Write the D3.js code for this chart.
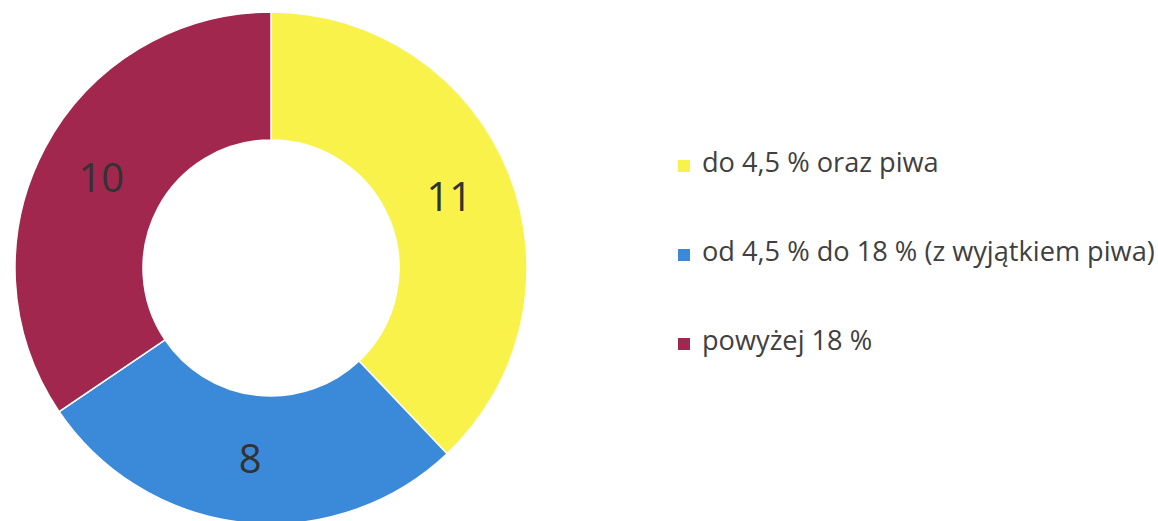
<!DOCTYPE html>
<html><head><meta charset="utf-8">
<script src="https://cdn.jsdelivr.net/npm/d3@7"></script>
<style>body{margin:0;background:#fff}svg{display:block}</style>
</head><body>
<svg id="c" width="1158" height="521"></svg>
<script>
const categories = ["do 4,5 % oraz piwa", "od 4,5 % do 18 % (z wyjątkiem piwa)", "powyżej 18 %"];
const values = [11, 8, 10];
const colors = ["#F9F24A", "#3B8ADA", "#A1274F"];

const svg = d3.select("#c");
const cx = 271, cy = 268, R = 256, r = 128;
const g = svg.append("g").attr("transform", `translate(${cx},${cy})`);
const pie = d3.pie().sort(null).value(d => d)(values);
const arc = d3.arc().innerRadius(r).outerRadius(R);
g.selectAll("path").data(pie).join("path")
  .attr("d", arc).attr("fill", (d,i) => colors[i])
  .attr("stroke", "#fff").attr("stroke-width", 1.5);
g.selectAll("text").data(pie).join("text")
  .attr("transform", d => `translate(${arc.centroid(d)})`)
  .attr("text-anchor", "middle").attr("dy", "0.36em")
  .attr("font-family", "Open Sans, sans-serif").attr("font-size", 40)
  .attr("fill", "#333").text(d => d.data);

const y = d3.scalePoint().domain(categories).range([172, 350]);
const lg = svg.append("g");
const items = lg.selectAll("g").data(categories).join("g")
  .attr("transform", d => `translate(0,${y(d)})`);
items.append("rect").attr("x", 678).attr("y", -12).attr("width", 12).attr("height", 12)
  .attr("fill", (d,i) => colors[i]);
const texts = items.append("text").attr("x", 702).attr("y", 0)
  .attr("font-family", "Open Sans, sans-serif").attr("font-size", 24)
  .attr("fill", "#404040").text(d => d);
// fit font size so the widest label matches the reference width
const w = texts.nodes()[1].getComputedTextLength();
const fs = 24 * 453 / w;
texts.attr("font-size", fs);
</script>
</body></html>
